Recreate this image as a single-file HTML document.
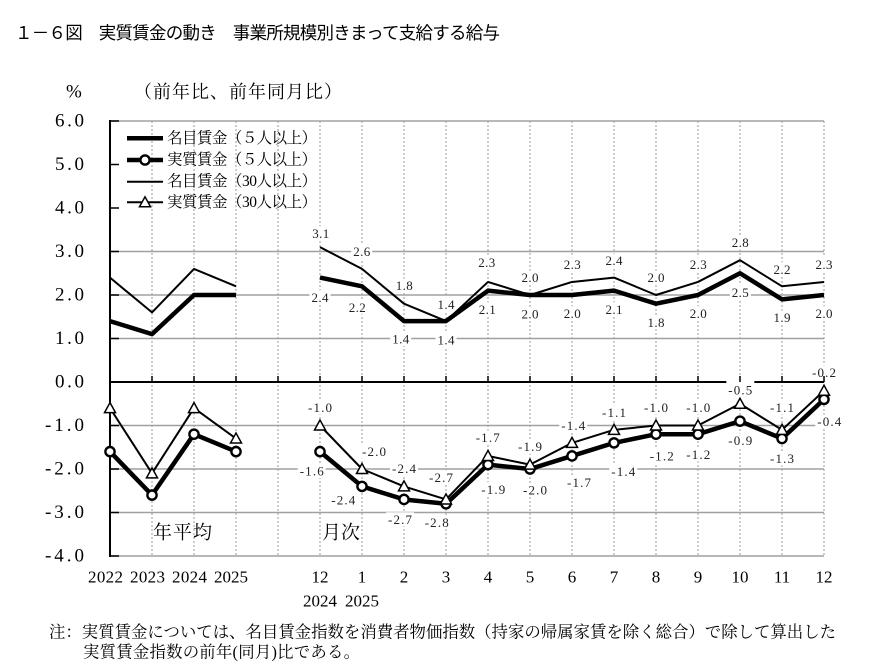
<!DOCTYPE html>
<html><head><meta charset="utf-8"><style>
html,body{margin:0;padding:0;background:#fff;}
svg{display:block;}
</style></head><body>
<svg width="870" height="667" viewBox="0 0 870 667" xmlns="http://www.w3.org/2000/svg">
<rect width="870" height="667" fill="#fff"/>
<!-- title -->
<text x="15" y="33" dominant-baseline="central" font-family="'Liberation Sans','Noto Sans CJK JP',sans-serif" font-size="17.5" textLength="485" lengthAdjust="spacing" fill="#000">１－６図　実質賃金の動き　事業所規模別きまって支給する給与</text>
<g font-family="'Liberation Serif','Noto Serif CJK SC',serif" fill="#000">
<text x="66" y="92" dominant-baseline="central" font-size="19">%</text>
<text x="134" y="92" dominant-baseline="central" font-size="18" textLength="208" lengthAdjust="spacing">（前年比、前年同月比）</text>
</g>
<!-- vertical dotted grid -->
<g stroke="#9a9a9a" stroke-width="1" stroke-dasharray="2,2">
<line x1="152" y1="121" x2="152" y2="556"/><line x1="194" y1="121" x2="194" y2="556"/><line x1="236" y1="121" x2="236" y2="556"/><line x1="278" y1="121" x2="278" y2="556"/>
<line x1="320" y1="121" x2="320" y2="556"/><line x1="362" y1="121" x2="362" y2="556"/><line x1="404" y1="121" x2="404" y2="556"/><line x1="446" y1="121" x2="446" y2="556"/>
<line x1="488" y1="121" x2="488" y2="556"/><line x1="530" y1="121" x2="530" y2="556"/><line x1="572" y1="121" x2="572" y2="556"/><line x1="614" y1="121" x2="614" y2="556"/>
<line x1="656" y1="121" x2="656" y2="556"/><line x1="698" y1="121" x2="698" y2="556"/><line x1="740" y1="121" x2="740" y2="556"/><line x1="782" y1="121" x2="782" y2="556"/>
<line x1="824" y1="121" x2="824" y2="556"/>
</g>
<!-- horizontal grid -->
<g stroke="#a0a0a0" stroke-width="1.5">
<line x1="110" y1="121" x2="824" y2="121"/>
<line x1="110" y1="251.5" x2="824" y2="251.5"/>
<line x1="110" y1="295" x2="824" y2="295"/>
<line x1="110" y1="338.5" x2="824" y2="338.5"/>
<line x1="110" y1="425.5" x2="824" y2="425.5"/>
<line x1="110" y1="469" x2="824" y2="469"/>
<line x1="110" y1="512.5" x2="824" y2="512.5"/>
<line x1="110" y1="556" x2="824" y2="556"/>
</g>
<!-- zero line & axis -->
<line x1="110" y1="382" x2="824" y2="382" stroke="#000" stroke-width="2"/>
<line x1="110" y1="120" x2="110" y2="557" stroke="#000" stroke-width="2"/>
<g stroke="#000" stroke-width="1.5">
<line x1="110" y1="121" x2="119" y2="121"/><line x1="110" y1="164.5" x2="119" y2="164.5"/><line x1="110" y1="208" x2="119" y2="208"/><line x1="110" y1="251.5" x2="119" y2="251.5"/><line x1="110" y1="295" x2="119" y2="295"/><line x1="110" y1="338.5" x2="119" y2="338.5"/><line x1="110" y1="425.5" x2="119" y2="425.5"/><line x1="110" y1="469" x2="119" y2="469"/><line x1="110" y1="512.5" x2="119" y2="512.5"/><line x1="110" y1="556" x2="119" y2="556"/>
</g>
<!-- label backgrounds -->
<g fill="#fff">
<rect x="310.2" y="226.3" width="21" height="14"/><rect x="351.2" y="244.7" width="21" height="14"/><rect x="393.8" y="278.7" width="21" height="14"/><rect x="435.5" y="297.3" width="21" height="14"/><rect x="476.2" y="255.7" width="21" height="14"/><rect x="519.5" y="270.7" width="21" height="14"/><rect x="561.8" y="257.3" width="21" height="14"/><rect x="603.5" y="253.7" width="21" height="14"/><rect x="645.5" y="270.7" width="21" height="14"/><rect x="687.8" y="257.3" width="21" height="14"/><rect x="729.8" y="235.7" width="21" height="14"/><rect x="771.5" y="262.3" width="21" height="14"/><rect x="813.5" y="257.3" width="21" height="14"/>
<rect x="309.5" y="290.3" width="21" height="14"/><rect x="346.8" y="300.3" width="21" height="14"/><rect x="390.2" y="332" width="21" height="14"/><rect x="435.5" y="333" width="21" height="14"/><rect x="476.8" y="302.3" width="21" height="14"/><rect x="519.5" y="307" width="21" height="14"/><rect x="561.8" y="306.3" width="21" height="14"/><rect x="603.5" y="302.3" width="21" height="14"/><rect x="645.5" y="315.3" width="21" height="14"/><rect x="687.8" y="306.3" width="21" height="14"/><rect x="729.8" y="285.3" width="21" height="14"/><rect x="771.5" y="310.7" width="21" height="14"/><rect x="813.5" y="306.3" width="21" height="14"/>
<rect x="306" y="400.3" width="28" height="14"/><rect x="360" y="444.7" width="28" height="14"/><rect x="390" y="461.3" width="28" height="14"/><rect x="427" y="470.3" width="28" height="14"/><rect x="473.7" y="430.7" width="28" height="14"/><rect x="516" y="439.7" width="28" height="14"/><rect x="559.3" y="418.3" width="28" height="14"/><rect x="600" y="405.3" width="28" height="14"/><rect x="642" y="400.3" width="28" height="14"/><rect x="684.3" y="400.3" width="28" height="14"/><rect x="726.3" y="380.5" width="28" height="17"/><rect x="768" y="400.3" width="28" height="14"/><rect x="810" y="365.5" width="28" height="14"/>
<rect x="297.7" y="464" width="28" height="14"/><rect x="329.3" y="493" width="28" height="14"/><rect x="386" y="512.3" width="28" height="14"/><rect x="422.7" y="515.3" width="28" height="14"/><rect x="479.3" y="482.3" width="28" height="14"/><rect x="521" y="483" width="28" height="14"/><rect x="565" y="475.3" width="28" height="14"/><rect x="609.3" y="464.7" width="28" height="14"/><rect x="647.7" y="449" width="28" height="14"/><rect x="684.3" y="447.3" width="28" height="14"/><rect x="726.3" y="433.7" width="28" height="14"/><rect x="768" y="451.3" width="28" height="14"/><rect x="815.3" y="414.7" width="28" height="14"/>
</g>
<!-- zero-line ticks -->
<g stroke="#000" stroke-width="1.5">
<line x1="152" y1="376" x2="152" y2="382"/><line x1="194" y1="376" x2="194" y2="382"/><line x1="236" y1="376" x2="236" y2="382"/><line x1="278" y1="376" x2="278" y2="382"/><line x1="320" y1="376" x2="320" y2="382"/><line x1="362" y1="376" x2="362" y2="382"/><line x1="404" y1="376" x2="404" y2="382"/><line x1="446" y1="376" x2="446" y2="382"/><line x1="488" y1="376" x2="488" y2="382"/><line x1="530" y1="376" x2="530" y2="382"/><line x1="572" y1="376" x2="572" y2="382"/><line x1="614" y1="376" x2="614" y2="382"/><line x1="656" y1="376" x2="656" y2="382"/><line x1="698" y1="376" x2="698" y2="382"/><line x1="740" y1="376" x2="740" y2="382"/><line x1="782" y1="376" x2="782" y2="382"/><line x1="824" y1="376" x2="824" y2="382"/>
</g>
<!-- series -->
<g fill="none" stroke="#000" stroke-linejoin="round">
<polyline stroke-width="2" points="110,277.6 152,312.4 194,268.9 236,286.3"/>
<polyline stroke-width="2" points="320,247.15 362,268.9 404,303.7 446,321.1 488,281.95 530,295 572,281.95 614,277.6 656,295 698,281.95 740,260.2 782,286.3 824,281.95"/>
<polyline stroke-width="4.5" points="110,321.1 152,334.15 194,295 236,295"/>
<polyline stroke-width="4.5" points="320,277.6 362,286.3 404,321.1 446,321.1 488,290.65 530,295 572,295 614,290.65 656,303.7 698,295 740,273.25 782,299.35 824,295"/>
<polyline stroke-width="4.5" points="110,451.6 152,495.1 194,434.2 236,451.6"/>
<polyline stroke-width="4.5" points="320,451.6 362,486.4 404,499.45 446,503.8 488,464.65 530,469 572,455.95 614,442.9 656,434.2 698,434.2 740,421.15 782,438.55 824,399.4"/>
<polyline stroke-width="2" points="110,408.1 152,473.35 194,408.1 236,438.55"/>
<polyline stroke-width="2" points="320,425.5 362,469 404,486.4 446,499.45 488,455.95 530,464.65 572,442.9 614,429.85 656,425.5 698,425.5 740,403.75 782,429.85 824,390.7"/>
</g>
<g fill="#fff" stroke="#000" stroke-width="2.4">
<circle cx="110" cy="451.6" r="4.6"/><circle cx="152" cy="495.1" r="4.6"/><circle cx="194" cy="434.2" r="4.6"/><circle cx="236" cy="451.6" r="4.6"/>
<circle cx="320" cy="451.6" r="4.6"/><circle cx="362" cy="486.4" r="4.6"/><circle cx="404" cy="499.45" r="4.6"/><circle cx="446" cy="503.8" r="4.6"/><circle cx="488" cy="464.65" r="4.6"/><circle cx="530" cy="469" r="4.6"/><circle cx="572" cy="455.95" r="4.6"/><circle cx="614" cy="442.9" r="4.6"/><circle cx="656" cy="434.2" r="4.6"/><circle cx="698" cy="434.2" r="4.6"/><circle cx="740" cy="421.15" r="4.6"/><circle cx="782" cy="438.55" r="4.6"/><circle cx="824" cy="399.4" r="4.6"/>
</g>
<g fill="#fff" stroke="#000" stroke-width="1.5" stroke-linejoin="miter">
<polygon points="0,-5.5 -5.5,4.5 5.5,4.5" transform="translate(110,408.1)"/>
<polygon points="0,-5.5 -5.5,4.5 5.5,4.5" transform="translate(152,473.35)"/>
<polygon points="0,-5.5 -5.5,4.5 5.5,4.5" transform="translate(194,408.1)"/>
<polygon points="0,-5.5 -5.5,4.5 5.5,4.5" transform="translate(236,438.55)"/>
<polygon points="0,-5.5 -5.5,4.5 5.5,4.5" transform="translate(320,425.5)"/>
<polygon points="0,-5.5 -5.5,4.5 5.5,4.5" transform="translate(362,469)"/>
<polygon points="0,-5.5 -5.5,4.5 5.5,4.5" transform="translate(404,486.4)"/>
<polygon points="0,-5.5 -5.5,4.5 5.5,4.5" transform="translate(446,499.45)"/>
<polygon points="0,-5.5 -5.5,4.5 5.5,4.5" transform="translate(488,455.95)"/>
<polygon points="0,-5.5 -5.5,4.5 5.5,4.5" transform="translate(530,464.65)"/>
<polygon points="0,-5.5 -5.5,4.5 5.5,4.5" transform="translate(572,442.9)"/>
<polygon points="0,-5.5 -5.5,4.5 5.5,4.5" transform="translate(614,429.85)"/>
<polygon points="0,-5.5 -5.5,4.5 5.5,4.5" transform="translate(656,425.5)"/>
<polygon points="0,-5.5 -5.5,4.5 5.5,4.5" transform="translate(698,425.5)"/>
<polygon points="0,-5.5 -5.5,4.5 5.5,4.5" transform="translate(740,403.75)"/>
<polygon points="0,-5.5 -5.5,4.5 5.5,4.5" transform="translate(782,429.85)"/>
<polygon points="0,-5.5 -5.5,4.5 5.5,4.5" transform="translate(824,390.7)"/>
</g>
<!-- legend -->
<g stroke="#000" fill="none">
<line x1="127" y1="138.3" x2="163" y2="138.3" stroke-width="4.5"/>
<line x1="127" y1="160" x2="163" y2="160" stroke-width="4.5"/>
<line x1="127" y1="181.7" x2="163" y2="181.7" stroke-width="2"/>
<line x1="127" y1="202.3" x2="163" y2="202.3" stroke-width="2"/>
<circle cx="145" cy="160" r="4.6" fill="#fff" stroke-width="2.4"/>
<polygon points="0,-5.5 -5.5,4.5 5.5,4.5" transform="translate(145,202.3)" fill="#fff" stroke-width="1.5"/>
</g>
<g font-family="'Liberation Serif','Noto Serif CJK SC',serif" font-size="15.5" fill="#000" dominant-baseline="central">
<text x="167" y="138.3" textLength="150" lengthAdjust="spacing">名目賃金（５人以上）</text>
<text x="167" y="160" textLength="150" lengthAdjust="spacing">実質賃金（５人以上）</text>
<text x="167" y="181.7" textLength="150" lengthAdjust="spacing">名目賃金（30人以上）</text>
<text x="167" y="202.3" textLength="150" lengthAdjust="spacing">実質賃金（30人以上）</text>
</g>
<!-- data labels -->
<g font-family="'Liberation Serif',serif" font-size="13" fill="#222" dominant-baseline="central" lengthAdjust="spacing">
<text x="312.2" y="233.3" textLength="17">3.1</text><text x="353.2" y="251.7" textLength="17">2.6</text><text x="395.8" y="285.7" textLength="17">1.8</text><text x="437.5" y="304.3" textLength="17">1.4</text><text x="478.2" y="262.7" textLength="17">2.3</text><text x="521.5" y="277.7" textLength="17">2.0</text><text x="563.8" y="264.3" textLength="17">2.3</text><text x="605.5" y="260.7" textLength="17">2.4</text><text x="647.5" y="277.7" textLength="17">2.0</text><text x="689.8" y="264.3" textLength="17">2.3</text><text x="731.8" y="242.7" textLength="17">2.8</text><text x="773.5" y="269.3" textLength="17">2.2</text><text x="815.5" y="264.3" textLength="17">2.3</text>
<text x="311.5" y="297.3" textLength="17">2.4</text><text x="348.8" y="307.3" textLength="17">2.2</text><text x="392.2" y="339" textLength="17">1.4</text><text x="437.5" y="340" textLength="17">1.4</text><text x="478.8" y="309.3" textLength="17">2.1</text><text x="521.5" y="314" textLength="17">2.0</text><text x="563.8" y="313.3" textLength="17">2.0</text><text x="605.5" y="309.3" textLength="17">2.1</text><text x="647.5" y="322.3" textLength="17">1.8</text><text x="689.8" y="313.3" textLength="17">2.0</text><text x="731.8" y="292.3" textLength="17">2.5</text><text x="773.5" y="317.7" textLength="17">1.9</text><text x="815.5" y="313.3" textLength="17">2.0</text>
<text x="308" y="407.3" textLength="24">-1.0</text><text x="362" y="451.7" textLength="24">-2.0</text><text x="392" y="468.3" textLength="24">-2.4</text><text x="429" y="477.3" textLength="24">-2.7</text><text x="475.7" y="437.7" textLength="24">-1.7</text><text x="518" y="446.7" textLength="24">-1.9</text><text x="561.3" y="425.3" textLength="24">-1.4</text><text x="602" y="412.3" textLength="24">-1.1</text><text x="644" y="407.3" textLength="24">-1.0</text><text x="686.3" y="407.3" textLength="24">-1.0</text><text x="728.3" y="390" textLength="24">-0.5</text><text x="770" y="407.3" textLength="24">-1.1</text><text x="812" y="372.5" textLength="24">-0.2</text>
<text x="299.7" y="471" textLength="24">-1.6</text><text x="331.3" y="500" textLength="24">-2.4</text><text x="388" y="519.3" textLength="24">-2.7</text><text x="424.7" y="522.3" textLength="24">-2.8</text><text x="481.3" y="489.3" textLength="24">-1.9</text><text x="523" y="490" textLength="24">-2.0</text><text x="567" y="482.3" textLength="24">-1.7</text><text x="611.3" y="471.7" textLength="24">-1.4</text><text x="649.7" y="456" textLength="24">-1.2</text><text x="686.3" y="454.3" textLength="24">-1.2</text><text x="728.3" y="440.7" textLength="24">-0.9</text><text x="770" y="458.3" textLength="24">-1.3</text><text x="817.3" y="421.7" textLength="24">-0.4</text>
</g>
<!-- y axis labels -->
<g font-family="'Liberation Serif',serif" font-size="19" fill="#000" dominant-baseline="central" lengthAdjust="spacing">
<text x="55" y="121" textLength="29">6.0</text>
<text x="55" y="164.5" textLength="29">5.0</text>
<text x="55" y="208" textLength="29">4.0</text>
<text x="55" y="251.5" textLength="29">3.0</text>
<text x="55" y="295" textLength="29">2.0</text>
<text x="55" y="338.5" textLength="29">1.0</text>
<text x="55" y="382" textLength="29">0.0</text>
<text x="45" y="425.5" textLength="39">-1.0</text>
<text x="45" y="469" textLength="39">-2.0</text>
<text x="45" y="512.5" textLength="39">-3.0</text>
<text x="45" y="556" textLength="39">-4.0</text>
</g>
<!-- x axis labels -->
<g font-family="'Liberation Serif',serif" font-size="17" fill="#000" dominant-baseline="central">
<text x="88" y="577" textLength="35" lengthAdjust="spacing">2022</text>
<text x="130" y="577" textLength="35" lengthAdjust="spacing">2023</text>
<text x="172" y="577" textLength="35" lengthAdjust="spacing">2024</text>
<text x="214" y="577" textLength="34" lengthAdjust="spacing">2025</text>
<g text-anchor="middle">
<text x="320" y="577">12</text><text x="362" y="577">1</text><text x="404" y="577">2</text><text x="446" y="577">3</text><text x="488" y="577">4</text><text x="530" y="577">5</text><text x="572" y="577">6</text><text x="614" y="577">7</text><text x="656" y="577">8</text><text x="698" y="577">9</text><text x="740" y="577">10</text><text x="782" y="577">11</text><text x="824" y="577">12</text>
<text x="320" y="601">2024</text><text x="362" y="601">2025</text>
</g>
</g>
<g font-family="'Liberation Serif','Noto Serif CJK SC',serif" fill="#000" dominant-baseline="central">
<text x="153" y="533" font-size="19" textLength="59" lengthAdjust="spacing">年平均</text>
<text x="322" y="533" font-size="19" textLength="38" lengthAdjust="spacing">月次</text>
<text x="49" y="632" font-size="16.4" textLength="787" lengthAdjust="spacing">注：実質賃金については、名目賃金指数を消費者物価指数（持家の帰属家賃を除く総合）で除して算出した</text>
<text x="83" y="652" font-size="16.4" textLength="277" lengthAdjust="spacing">実質賃金指数の前年(同月)比である。</text>
</g>
</svg>
</body></html>
